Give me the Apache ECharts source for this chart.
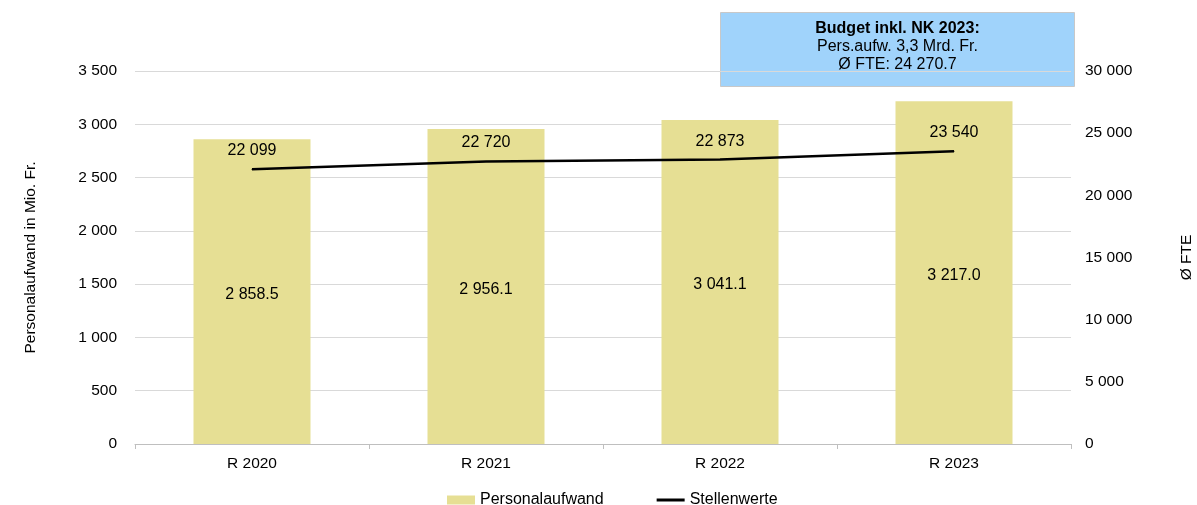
<!DOCTYPE html>
<html><head><meta charset="utf-8">
<script src="https://cdn.jsdelivr.net/npm/echarts@6/dist/echarts.min.js"></script>
<style>html,body{margin:0;padding:0;background:#fff;overflow:hidden;width:1197px;height:505px}#c{width:1197px;height:505px;position:absolute;left:0;top:0}</style>
</head><body><div id="c"></div>
<script>
const categories = ['R 2020', 'R 2021', 'R 2022', 'R 2023'];
const personalaufwand = [2858.5, 2956.1, 3041.1, 3217.0];
const stellenwerte = [22099, 22720, 22873, 23540];
const leftTicks = [0, 500, 1000, 1500, 2000, 2500, 3000, 3500];
const rightTicks = [0, 5000, 10000, 15000, 20000, 25000, 30000];
const boxLines = ['Budget inkl. NK 2023:', 'Pers.aufw. 3,3 Mrd. Fr.', 'Ø FTE: 24 270.7'];

function fmt(v, dec) {
  const s = Number(v).toFixed(dec);
  const parts = s.split('.');
  parts[0] = parts[0].replace(/\B(?=(\d{3})+(?!\d))/g, ' ');
  return parts.join('.');
}
const FONT = 'Liberation Sans, Arial, sans-serif';
const TICK = 15.5;
const chart = echarts.init(document.getElementById('c'), null, {renderer: 'canvas', width: 1197, height: 505});
chart.setOption({
  animation: false,
  textStyle: {fontFamily: FONT, color: '#000'},
  grid: {left: 135, right: 126, top: 71, bottom: 61, containLabel: false, outerBoundsMode: 'none'},
  legend: {
    top: 487, left: 442, itemGap: 53, itemWidth: 28, itemHeight: 9, symbolKeepAspect: true,
    textStyle: {fontFamily: FONT, fontSize: 16, color: '#000'},
    data: [
      {name: 'Personalaufwand', icon: 'rect'},
      {name: 'Stellenwerte', icon: 'path://M0,0 L28,0 L28,3 L0,3 Z'}
    ]
  },
  xAxis: {
    type: 'category', data: categories,
    axisLine: {lineStyle: {color: '#bfbfbf'}},
    axisTick: {show: true, lineStyle: {color: '#bfbfbf'}},
    axisLabel: {fontFamily: FONT, fontSize: TICK, color: '#000', margin: 12}
  },
  yAxis: [{
    type: 'value', min: leftTicks[0], max: leftTicks[leftTicks.length - 1], interval: 500,
    name: 'Personalaufwand in Mio. Fr.', nameLocation: 'middle', nameGap: 96, nameRotate: 90,
    nameTextStyle: {fontFamily: FONT, fontSize: TICK, color: '#000'},
    axisLine: {show: false},
    axisTick: {show: false},
    splitLine: {lineStyle: {color: '#d9d9d9'}},
    axisLabel: {fontFamily: FONT, fontSize: TICK, color: '#000', margin: 18, formatter: v => fmt(v, 0)}
  }, {
    type: 'value', min: rightTicks[0], max: rightTicks[rightTicks.length - 1], interval: 5000,
    name: 'Ø FTE', nameLocation: 'middle', nameGap: 108, nameRotate: 90,
    nameTextStyle: {fontFamily: FONT, fontSize: TICK, color: '#000'},
    axisLine: {show: false}, axisTick: {show: false}, splitLine: {show: false},
    axisLabel: {fontFamily: FONT, fontSize: TICK, color: '#000', margin: 14, formatter: v => fmt(v, 0)}
  }],
  series: [{
    name: 'Personalaufwand', type: 'bar', yAxisIndex: 0, data: personalaufwand, barWidth: '50%',
    itemStyle: {color: '#e6df94'},
    label: {show: true, position: 'inside', offset: [0, 3], fontFamily: FONT, fontSize: 16, color: '#000', formatter: p => fmt(p.value, 1)}
  }, {
    name: 'Stellenwerte', type: 'line', yAxisIndex: 1, data: stellenwerte,
    symbol: 'circle', symbolSize: 1, showSymbol: true,
    lineStyle: {color: '#000', width: 2.5}, itemStyle: {color: '#000'},
    label: {show: true, position: 'top', distance: 10, fontFamily: FONT, fontSize: 16, color: '#000', formatter: p => fmt(p.value, 0)}
  }],
  graphic: [{
    type: 'group', left: 720, top: 12,
    children: [{
      type: 'rect', shape: {x: 0, y: 0, width: 354, height: 74},
      style: {fill: '#a0d3fb', stroke: '#c8c8c8', lineWidth: 1}
    }, {
      type: 'text', x: 177, y: 8,
      style: {text: boxLines[0], fontFamily: FONT, fontSize: 16, fontWeight: 'bold', fill: '#000', align: 'center', verticalAlign: 'top'}
    }, {
      type: 'text', x: 177, y: 26,
      style: {text: boxLines[1], fontFamily: FONT, fontSize: 16, fill: '#000', align: 'center', verticalAlign: 'top'}
    }, {
      type: 'text', x: 177, y: 44,
      style: {text: boxLines[2], fontFamily: FONT, fontSize: 16, fill: '#000', align: 'center', verticalAlign: 'top'}
    }]
  }]
});
</script></body></html>
